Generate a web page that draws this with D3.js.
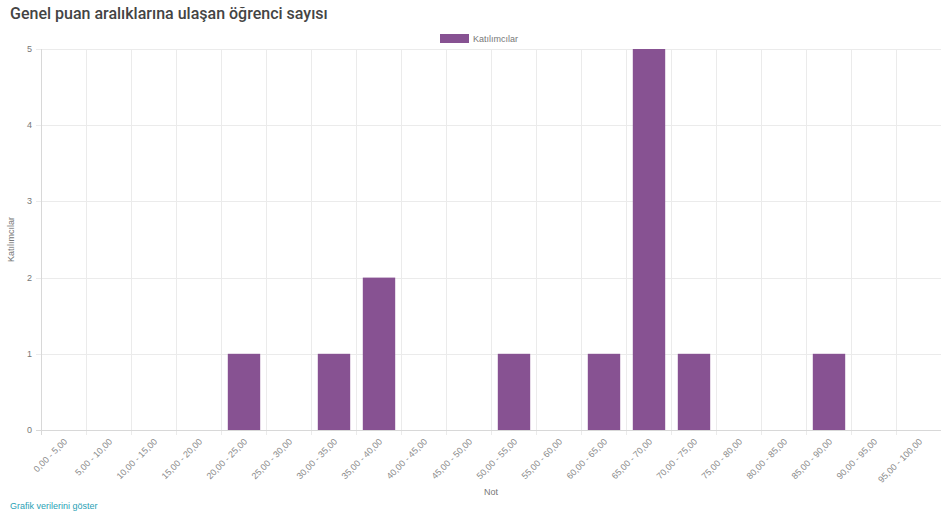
<!DOCTYPE html>
<meta charset="utf-8">
<style>
body { margin: 0; background: #fff; }
svg text { font-family: "Liberation Sans", Arial, sans-serif; }
.grid line { stroke: #ebebeb; stroke-width: 1px; }
</style>

<svg width="941" height="516"></svg>
<script src="https://d3js.org/d3.v7.min.js"></script>

<script>

// chart values
let categories = ["0,00 - 5,00", "5,00 - 10,00", "10,00 - 15,00", "15,00 - 20,00",
  "20,00 - 25,00", "25,00 - 30,00", "30,00 - 35,00", "35,00 - 40,00",
  "40,00 - 45,00", "45,00 - 50,00", "50,00 - 55,00", "55,00 - 60,00",
  "60,00 - 65,00", "65,00 - 70,00", "70,00 - 75,00", "75,00 - 80,00",
  "80,00 - 85,00", "85,00 - 90,00", "90,00 - 95,00", "95,00 - 100,00"];
let counts = [0, 0, 0, 0, 1, 0, 1, 2, 0, 0, 1, 0, 1, 5, 1, 0, 0, 1, 0, 0];
let yTicks = [0, 1, 2, 3, 4, 5];
let seriesName = "Katılımcılar";
let barColor = "#875292";

let svg = d3.select("svg");
let plotLeft = 41, plotRight = 941, plotTop = 49, plotBottom = 430;

let x = d3.scaleBand().domain(categories).range([plotLeft, plotRight]).paddingInner(0).paddingOuter(0);
let y = d3.scaleLinear().domain([0, 5]).range([plotBottom, plotTop]);

// title
svg.append("text")
  .attr("x", 10).attr("y", 19)
  .style("font-family", "Roboto, sans-serif")
  .style("font-size", "16px")
  .style("font-weight", 500)
  .attr("fill", "#444")
  .text("Genel puan aralıklarına ulaşan öğrenci sayısı");

// horizontal grid
let grid = svg.append("g").attr("class", "grid");
grid.selectAll(".h").data(yTicks).enter().append("line")
  .attr("x1", plotLeft - 5).attr("x2", plotRight)
  .attr("y1", d => Math.round(y(d)) + 0.5).attr("y2", d => Math.round(y(d)) + 0.5);

// vertical grid (at category boundaries)
let bounds = categories.map(c => x(c)).concat([plotRight]);
grid.selectAll(".v").data(bounds.slice(1)).enter().append("line")
  .attr("x1", d => Math.round(d) + 0.5).attr("x2", d => Math.round(d) + 0.5)
  .attr("y1", plotTop).attr("y2", plotBottom + 5);

// axes lines
svg.append("line")
  .attr("x1", plotLeft + 0.5).attr("x2", plotLeft + 0.5)
  .attr("y1", plotTop).attr("y2", plotBottom + 5)
  .attr("stroke", "#d8d8d8");
svg.append("line")
  .attr("x1", plotLeft - 5).attr("x2", plotRight)
  .attr("y1", plotBottom + 0.5).attr("y2", plotBottom + 0.5)
  .attr("stroke", "#d8d8d8");

// y tick labels
svg.append("g").selectAll("text").data(yTicks).enter().append("text")
  .attr("x", plotLeft - 9).attr("y", d => y(d) + 3)
  .attr("text-anchor", "end")
  .style("font-size", "9px")
  .attr("fill", "#777")
  .text(d => d);

// x tick labels, rotated, ending under the band centre
svg.append("g").selectAll("text").data(categories).enter().append("text")
  .attr("transform", d => "translate(" + (x(d) + x.bandwidth() / 2 + 2) + "," + (plotBottom + 10) + ") rotate(-45)")
  .attr("text-anchor", "end")
  .attr("dy", "0.35em")
  .style("font-size", "9px")
  .attr("fill", "#8a8a8a")
  .text(d => d);

// bars
let inner = x.bandwidth() * 0.72;
svg.append("g").selectAll("rect").data(counts).enter().append("rect")
  .attr("x", (d, i) => x(categories[i]) + (x.bandwidth() - inner) / 2 + 0.5)
  .attr("width", inner)
  .attr("y", d => y(d))
  .attr("height", d => y(0) - y(d))
  .attr("fill", barColor);

// axis titles
svg.append("text")
  .attr("transform", "translate(14," + ((plotTop + plotBottom) / 2) + ") rotate(-90)")
  .attr("text-anchor", "middle")
  .style("font-size", "9px")
  .attr("fill", "#777")
  .text("Katılımcılar");
svg.append("text")
  .attr("x", (plotLeft + plotRight) / 2).attr("y", 495)
  .attr("text-anchor", "middle")
  .style("font-size", "9px")
  .attr("fill", "#777")
  .text("Not");

// legend
svg.append("rect")
  .attr("x", 440).attr("y", 34).attr("width", 29).attr("height", 9)
  .attr("fill", barColor);
svg.append("text")
  .attr("x", 473).attr("y", 42)
  .style("font-size", "9px")
  .attr("fill", "#777")
  .text(seriesName);

// link below
svg.append("text")
  .attr("x", 10).attr("y", 509)
  .style("font-size", "9px")
  .attr("fill", "#2a9fb5")
  .text("Grafik verilerini göster");

</script>
